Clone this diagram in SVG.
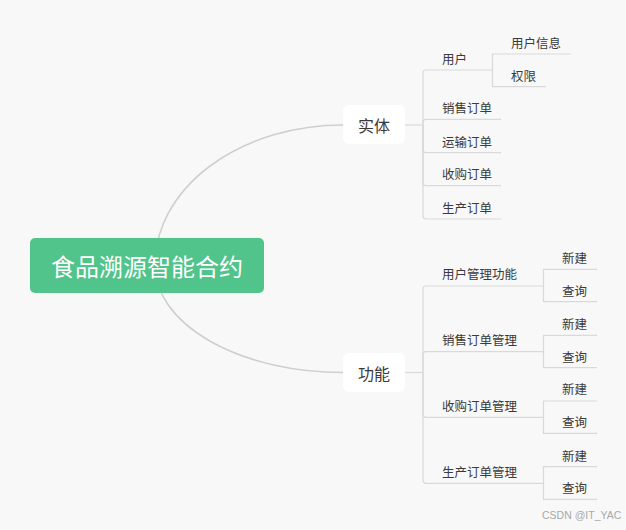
<svg xmlns="http://www.w3.org/2000/svg" width="626" height="530" viewBox="0 0 626 530">
<style>
.t{font-family:"Noto Sans CJK SC","Noto Sans",sans-serif;fill:#3a3a3a;dominant-baseline:central}
.s{font-size:12.5px}
.m{font-size:16px;text-anchor:middle}
.r{font-size:24px;text-anchor:middle;fill:#ffffff}
.curve{fill:none;stroke:#cfcfcf;stroke-width:1.6}
.br{fill:none;stroke:#d9d9d9;stroke-width:1.2}
</style>
<rect width="626" height="530" fill="#f8f8f8"/>
<g id="connectors">
<path class="curve" d="M155,265 A188,140 0 0 1 343,125"/>
<path class="curve" d="M155,265 A188,107 0 0 0 343,372.5"/>
<path class="br" d="M405,125 H423"/>
<path class="br" d="M423,125 V73 Q423,70 426,70 H492.5"/>
<path class="br" d="M423,125 V122.3 Q423,119.3 426,119.3 H501"/>
<path class="br" d="M423,125 V149.7 Q423,152.7 426,152.7 H501"/>
<path class="br" d="M423,125 V182.7 Q423,185.7 426,185.7 H501"/>
<path class="br" d="M423,125 V216 Q423,219 426,219 H501"/>
<path class="br" d="M492.5,70 V54 H571"/>
<path class="br" d="M492.5,70 V86.7 H546"/>
<path class="br" d="M405,372.5 H423"/>
<path class="br" d="M423,372.5 V289 Q423,286 426,286 H543.5"/>
<path class="br" d="M423,372.5 V354.7 Q423,351.7 426,351.7 H543.5"/>
<path class="br" d="M423,372.5 V414.3 Q423,417.3 426,417.3 H543.5"/>
<path class="br" d="M423,372.5 V480.3 Q423,483.3 426,483.3 H543.5"/>
<path class="br" d="M543.5,286 V269.3 H597 M543.5,286 V301.7 H597"/>
<path class="br" d="M543.5,351.7 V335.3 H597 M543.5,351.7 V367.7 H597"/>
<path class="br" d="M543.5,417.3 V401 H597 M543.5,417.3 V433.3 H597"/>
<path class="br" d="M543.5,483.3 V466.7 H597 M543.5,483.3 V499.3 H597"/>
</g>
<g id="root">
<rect x="30" y="238" width="234" height="55" rx="5" fill="#50c48b"/>
<text class="t r" x="147" y="265">食品溯源智能合约</text>
</g>
<g id="entity">
<rect x="343" y="105" width="62" height="39" rx="6" fill="#ffffff"/>
<text class="t m" x="374" y="124.5">实体</text>
</g>
<g id="func">
<rect x="343" y="353" width="62" height="39" rx="6" fill="#ffffff"/>
<text class="t m" x="374" y="372.5">功能</text>
</g>
<g id="user"><text class="t s" x="442" y="58">用户</text></g>
<g id="userinfo"><text class="t s" x="511" y="42.5">用户信息</text></g>
<g id="perm"><text class="t s" x="511" y="75">权限</text></g>
<g id="sales"><text class="t s" x="442" y="107.5">销售订单</text></g>
<g id="transport"><text class="t s" x="442" y="141">运输订单</text></g>
<g id="purchase"><text class="t s" x="442" y="173.5">收购订单</text></g>
<g id="production"><text class="t s" x="442" y="207">生产订单</text></g>
<g id="f1"><text class="t s" x="442" y="273">用户管理功能</text></g>
<g id="f1a"><text class="t s" x="562" y="257.5">新建</text></g>
<g id="f1b"><text class="t s" x="562" y="290">查询</text></g>
<g id="f2"><text class="t s" x="442" y="339">销售订单管理</text></g>
<g id="f2a"><text class="t s" x="562" y="323">新建</text></g>
<g id="f2b"><text class="t s" x="562" y="356">查询</text></g>
<g id="f3"><text class="t s" x="442" y="405">收购订单管理</text></g>
<g id="f3a"><text class="t s" x="562" y="388.5">新建</text></g>
<g id="f3b"><text class="t s" x="562" y="421.5">查询</text></g>
<g id="f4"><text class="t s" x="442" y="471">生产订单管理</text></g>
<g id="f4a"><text class="t s" x="562" y="455">新建</text></g>
<g id="f4b"><text class="t s" x="562" y="487.5">查询</text></g>
<text x="542" y="519" font-family="Liberation Sans, sans-serif" font-size="10.5" fill="#a8a8a8">CSDN @IT_YAC</text>
</svg>
